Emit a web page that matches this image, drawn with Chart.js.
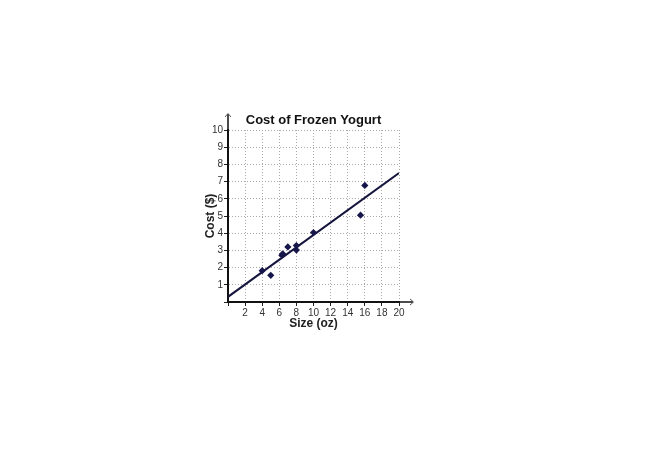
<!DOCTYPE html>
<html><head><meta charset="utf-8">
<script src="https://cdn.jsdelivr.net/npm/chart.js@4"></script>
<style>html,body{margin:0;padding:0;background:#fff}#wrap{position:absolute;left:0;top:0;width:645px;height:456px}</style>
</head><body><div id="wrap"><canvas id="c" width="645" height="456"></canvas></div>
<script>
const sizes = [4, 5, 6.3, 6.4, 7, 8, 8, 10, 15.5, 16];
const costs = [1.82, 1.55, 2.72, 2.8, 3.2, 3.02, 3.28, 4.04, 5.05, 6.78];
const fitX = [0, 20];
const fitY = [0.3, 7.5];
const xTicks = [2, 4, 6, 8, 10, 12, 14, 16, 18, 20];
const yTicks = [1, 2, 3, 4, 5, 6, 7, 8, 9, 10];
const FONT = "'Liberation Sans', Arial, sans-serif";

const arrows = {
  id: 'arrows',
  afterDraw(chart) {
    const ctx = chart.ctx, a = chart.chartArea;
    ctx.save();
    ctx.strokeStyle = '#111';
    ctx.lineWidth = 1.5;
    ctx.beginPath();
    ctx.moveTo(a.left, a.top); ctx.lineTo(a.left, a.top - 16);
    ctx.moveTo(a.right, a.bottom); ctx.lineTo(a.right + 14, a.bottom);
    ctx.stroke();
    ctx.strokeStyle = '#555';
    ctx.lineWidth = 1;
    ctx.beginPath();
    ctx.moveTo(a.left - 3, a.top - 13); ctx.lineTo(a.left, a.top - 16.5); ctx.lineTo(a.left + 3, a.top - 13);
    ctx.moveTo(a.right + 11, a.bottom - 3); ctx.lineTo(a.right + 14.5, a.bottom); ctx.lineTo(a.right + 11, a.bottom + 3);
    ctx.stroke();
    ctx.restore();
  }
};

new Chart(document.getElementById('c'), {
  type: 'scatter',
  data: {
    datasets: [
      {
        data: sizes.map((x, i) => ({x, y: costs[i]})),
        pointStyle: 'rectRot', pointRadius: 3.6,
        backgroundColor: '#16164a', borderColor: '#16164a', borderWidth: 0
      },
      {
        type: 'line',
        data: fitX.map((x, i) => ({x, y: fitY[i]})),
        borderColor: '#14143c', borderWidth: 2, pointRadius: 0, fill: false
      }
    ]
  },
  plugins: [arrows],
  options: {
    responsive: false, animation: false,
    layout: {padding: {left: 203, right: 246, top: 112.4, bottom: 125}},
    plugins: {
      legend: {display: false}, tooltip: {enabled: false},
      title: {
        display: true, text: 'Cost of Frozen Yogurt', fullSize: false,
        color: '#111', font: {family: FONT, size: 13, weight: 'bold'},
        padding: {top: 0, bottom: 2}
      }
    },
    scales: {
      x: {
        type: 'linear', min: 0, max: 20,
        afterFit(s) { s.height = 29; },
        afterBuildTicks(s) { s.ticks = [0].concat(xTicks).map(v => ({value: v})); },
        ticks: {
          autoSkip: false, maxRotation: 0, padding: 1, color: '#333',
          font: {family: FONT, size: 10},
          callback: v => v === 0 ? '' : String(v)
        },
        grid: {color: '#a8a8a8', lineWidth: 1, tickLength: 4, tickColor: '#222', tickBorderDash: [], tickWidth: 1},
        border: {color: '#111', width: 2, dash: [1, 2]},
        title: {display: true, text: 'Size (oz)', color: '#222', font: {family: FONT, size: 12, weight: 'bold'}, padding: 0}
      },
      y: {
        type: 'linear', min: 0, max: 10,
        afterFit(s) { s.width = 25; },
        afterBuildTicks(s) { s.ticks = [0].concat(yTicks).map(v => ({value: v})); },
        ticks: {
          autoSkip: false, padding: 1, color: '#333',
          font: {family: FONT, size: 10},
          callback: v => v === 0 ? '' : String(v)
        },
        grid: {color: '#a8a8a8', lineWidth: 1, tickLength: 4, tickColor: '#222', tickBorderDash: [], tickWidth: 1},
        border: {color: '#111', width: 2, dash: [1, 2]},
        title: {display: true, text: 'Cost ($)', color: '#222', font: {family: FONT, size: 12, weight: 'bold'}, padding: 0}
      }
    }
  }
});
</script></body></html>
